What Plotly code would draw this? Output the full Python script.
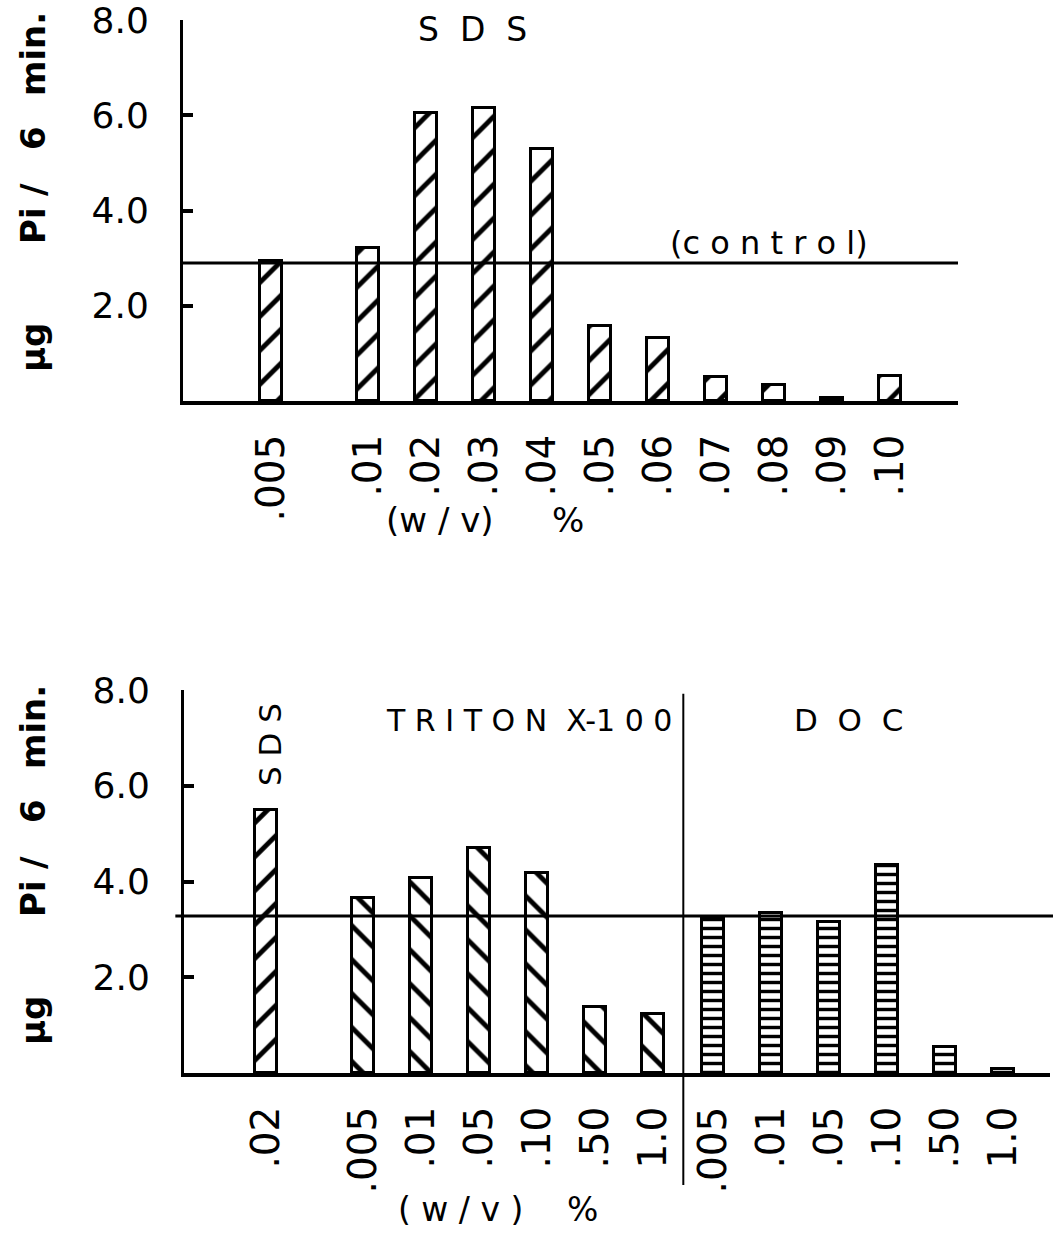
import plotly.graph_objects as go

# ---------------- data ----------------
top_labels = [".005", ".01", ".02", ".03", ".04", ".05", ".06", ".07", ".08", ".09", ".10"]
top_values = [2.93, 3.22, 6.04, 6.15, 5.30, 1.58, 1.33, 0.51, 0.34, 0.07, 0.53]
top_control = 2.9

sds_labels = [".02"]
sds_values = [5.49]
triton_labels = [".005", ".01", ".05", ".10", ".50", "1.0"]
triton_values = [3.66, 4.07, 4.71, 4.17, 1.38, 1.23]
doc_labels = [".005", ".01", ".05", ".10", ".50", "1.0"]
doc_values = [3.21, 3.35, 3.16, 4.34, 0.54, 0.08]
bottom_control = 3.28

y_ticks = [2, 4, 6, 8]
y_ticktext = ["2.0", "4.0", "6.0", "8.0"]

# ---------------- layout helpers ----------------
W, H = 1053, 1236
FONT = "DejaVu Sans"
GAP = 0.68  # extra spacing between separated groups (in bar slots)


def slots(groups, gaps):
    pos, p = [], 0.0
    for gi, n in enumerate(groups):
        if gi > 0:
            p += gaps[gi - 1]
        for i in range(n):
            pos.append(p)
            p += 1
    return pos


top_pos = slots([1, len(top_labels) - 1], [GAP])
bot_pos = slots([len(sds_labels), len(triton_labels), len(doc_labels)], [GAP, 0.03])
sds_pos = bot_pos[:1]
tri_pos = bot_pos[1:1 + len(triton_labels)]
doc_pos = bot_pos[1 + len(triton_labels):]

BAR_W = 0.38
line = dict(color="black", width=3)


def hatch(shape, size, solidity):
    return dict(shape=shape, size=size, solidity=solidity, fgcolor="black", bgcolor="white",
                fgopacity=1)


fig = go.Figure()

fig.add_trace(go.Bar(
    x=top_pos, y=top_values, width=BAR_W, xaxis="x", yaxis="y",
    marker=dict(color="white", line=line, pattern=hatch("/", 24, 0.2)),
    showlegend=False))

fig.add_trace(go.Bar(
    x=sds_pos, y=sds_values, width=BAR_W, xaxis="x2", yaxis="y2",
    marker=dict(color="white", line=line, pattern=hatch("/", 24, 0.2)),
    showlegend=False))
fig.add_trace(go.Bar(
    x=tri_pos, y=triton_values, width=BAR_W, xaxis="x2", yaxis="y2",
    marker=dict(color="white", line=line, pattern=hatch("\\", 24, 0.2)),
    showlegend=False))
fig.add_trace(go.Bar(
    x=doc_pos, y=doc_values, width=BAR_W, xaxis="x2", yaxis="y2",
    marker=dict(color="white", line=line, pattern=hatch("-", 9, 0.38)),
    showlegend=False))

top_range = [(183 - 271) / 58, (958 - 271) / 58]
bot_range = [(184 - 266) / 58, (1050 - 266) / 58]

xcommon = dict(showline=True, linecolor="black", linewidth=4, ticks="", showgrid=False,
               zeroline=False, tickangle=-90, ticklabelstandoff=14, automargin=False,
               ticklabeloverflow="allow",
               tickfont=dict(family=FONT, size=39, color="black"))
ycommon = dict(showline=True, linecolor="black", linewidth=3, ticks="inside", ticklen=10,
               tickwidth=4, tickcolor="black", showgrid=False, zeroline=False, range=[0, 8],
               tickvals=y_ticks, ticktext=y_ticktext, ticklabelstandoff=24, automargin=False,
               ticklabeloverflow="allow",
               tickfont=dict(family=FONT, size=36, color="black"))

fig.update_layout(
    width=W, height=H, margin=dict(l=0, r=0, t=0, b=0, autoexpand=False),
    paper_bgcolor="white", plot_bgcolor="white", bargap=0,
    xaxis=dict(domain=[183 / W, 958 / W], range=top_range, anchor="y",
               tickvals=top_pos, ticktext=top_labels, **xcommon),
    yaxis=dict(domain=[1 - 401 / H, 1 - 20 / H], anchor="x", **ycommon),
    xaxis2=dict(domain=[184 / W, 1050 / W], range=bot_range, anchor="y2",
                tickvals=bot_pos, ticktext=sds_labels + triton_labels + doc_labels, **xcommon),
    yaxis2=dict(domain=[1 - 1073 / H, 1 - 690 / H], anchor="x2", **ycommon),
)

# control lines
fig.add_shape(type="line", xref="x domain", yref="y", x0=0, x1=1, y0=top_control, y1=top_control,
              line=dict(color="black", width=3))
fig.add_shape(type="line", xref="x2 domain", yref="y2", x0=-0.01, x1=1.01, y0=bottom_control,
              y1=bottom_control, line=dict(color="black", width=3))

# divider between TRITON and DOC groups (extends below the axis)
div_x = (tri_pos[-1] + doc_pos[0]) / 2
div_frac = (div_x - bot_range[0]) / (bot_range[1] - bot_range[0])
fig.add_shape(type="line", xref="x2 domain", yref="y2 domain", x0=div_frac, x1=div_frac,
              y0=-112 / 383, y1=0.99, line=dict(color="black", width=2))


def ann(text, x, y, size=33, angle=0, bold=False):
    fig.add_annotation(text=text, xref="paper", yref="paper", x=x / W, y=1 - y / H,
                       textangle=angle, showarrow=False, xanchor="center", yanchor="middle",
                       font=dict(family=FONT, size=size, color="black",
                                 weight="bold" if bold else "normal"))


ann("S  D  S", 472, 30, size=33)
ann("(c o n t r o l)", 769, 243, size=32)
ann("(w / v)", 440, 520, size=34)
ann("%", 568, 520, size=34)
ann("T R I T O N  X-1 0 0", 529, 720, size=30)
ann("D  O  C", 848, 720, size=31)
ann("S D S", 270, 745, size=31, angle=-90)
ann("( w / v )", 460, 1209, size=33)
ann("%", 582, 1209, size=33)

# y-axis titles (word by word, rotated)
for off in (0, 673):
    ann("μg", 33, 348 + off, size=34, angle=-90, bold=True)
    ann("Pi", 33, 226 + off, size=34, angle=-90, bold=True)
    ann("/", 33, 190 + off, size=34, angle=-90, bold=True)
    ann("6", 33, 138 + off, size=34, angle=-90, bold=True)
    ann("min.", 33, 54 + off, size=34, angle=-90, bold=True)

fig.write_html("out.html", config={"displayModeBar": False},
               post_script="document.body.style.margin='0px';")
